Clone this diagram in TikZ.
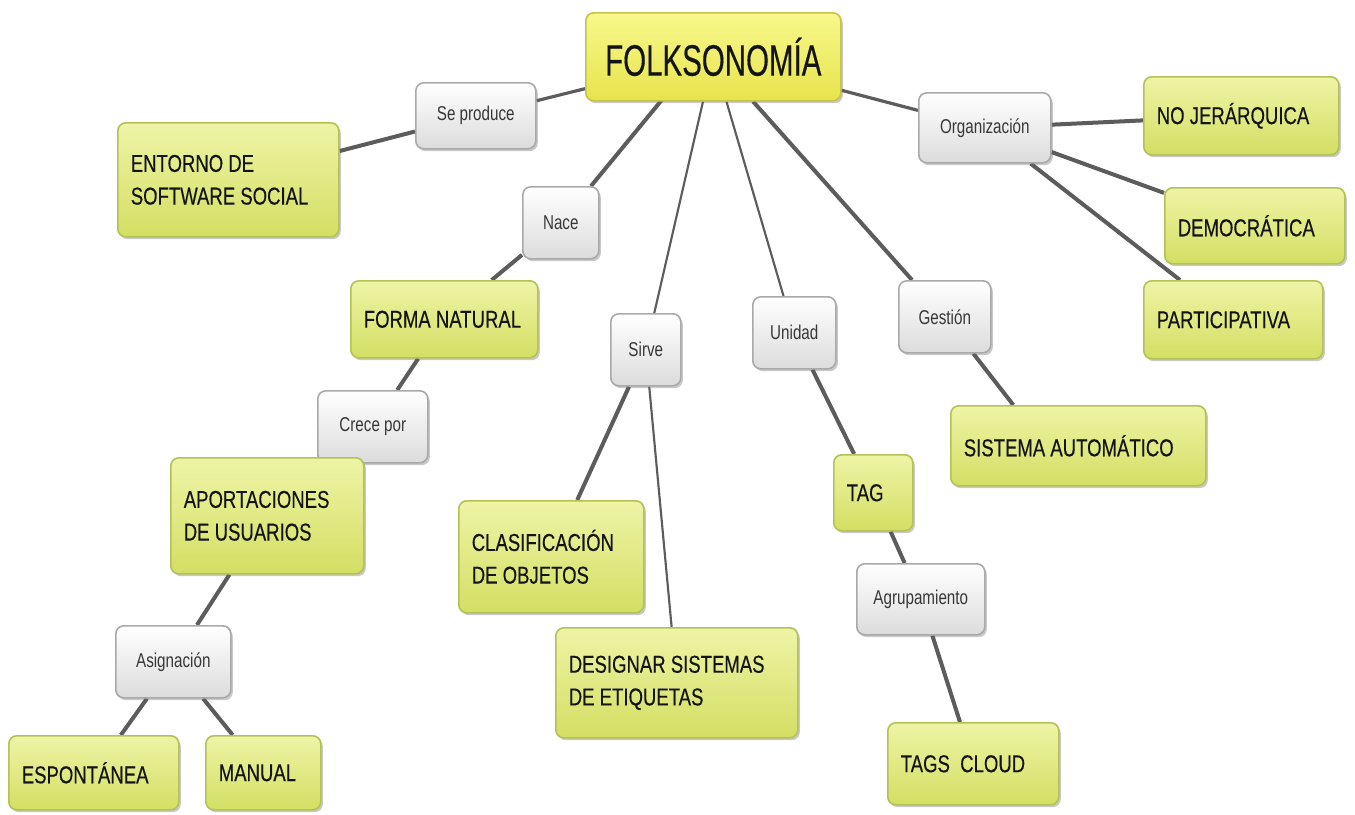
\documentclass[tikz,border=0pt]{standalone}
\usepackage{fontspec}
\setmainfont{Liberation Sans}
\newfontfamily\gfont[FakeStretch=0.76,FakeBold=0.3]{Liberation Sans}
\newfontfamily\wfont[FakeStretch=0.76]{Liberation Sans}
\newfontfamily\ffont[FakeStretch=0.67,FakeBold=0.3]{Liberation Sans}
\usetikzlibrary{shadows,calc}
\pgfdeclarelayer{background}
\pgfdeclarelayer{paper}
\pgfsetlayers{paper,background,main}
\definecolor{gtop}{HTML}{EEF4A6}
\definecolor{gbot}{HTML}{D3DF63}
\definecolor{gdraw}{HTML}{B4C156}
\definecolor{ytop}{HTML}{F8F88C}
\definecolor{ybot}{HTML}{E6E44C}
\definecolor{ydraw}{HTML}{C8C24A}
\definecolor{wbot}{HTML}{DCDCDC}
\definecolor{wdraw}{HTML}{A9A9A9}
\definecolor{linkc}{HTML}{5C5C5C}
\definecolor{txt}{HTML}{141414}
\tikzset{
 base/.style={anchor=north west, rounded corners=6pt, line width=1.2pt,
   drop shadow={shadow xshift=1.5pt, shadow yshift=-1.8pt, opacity=0.35, fill=black!60}},
 gbox/.style 2 args={base, top color=gtop, bottom color=gbot, draw=gdraw,
   /utils/exec={\pgfmathsetlengthmacro\tw{(#1-26)*0.75pt}}, text width=\tw,
   inner xsep=9.75pt, inner ysep=0pt, minimum height=#2*0.75pt, align=flush left,
   font=\gfont\fontsize{18.3}{24.5}\selectfont, text=txt},
 wbox/.style 2 args={base, top color=white, bottom color=wbot, draw=wdraw,
   minimum width=#1*0.75pt, minimum height=#2*0.75pt, inner sep=0pt, align=center,
   font=\wfont\fontsize{15}{18}\selectfont, text=txt!85},
 fbox/.style 2 args={base, top color=ytop, bottom color=ybot, draw=ydraw,
   minimum width=#1*0.75pt, minimum height=#2*0.75pt, inner sep=0pt, align=center,
   font=\ffont\fontsize{33}{38}\selectfont, text=txt},
 link/.style={draw=linkc, line width=3pt},
 midlink/.style={draw=linkc, line width=2.4pt},
 thinlink/.style={draw=linkc, line width=1.6pt},
}
\begin{document}
\begin{tikzpicture}[x=0.75pt,y=-0.75pt]
\begin{pgfonlayer}{paper}
\fill[white] (0,0) rectangle (1355,814);
\end{pgfonlayer}
\useasboundingbox (0,0) rectangle (1355,814);

\node[fbox={255}{88}] (folk) at (585,12) {FOLKSONOMÍA};

\node[wbox={120}{66}] (sepro) at (415,82) {Se produce};
\node[gbox={221}{114}] (entorno) at (117,122) {ENTORNO DE\\SOFTWARE SOCIAL};

\node[wbox={76}{72}] (nace) at (522,186) {Nace};
\node[gbox={187}{77}] (forma) at (350,280) {FORMA NATURAL};
\node[wbox={110}{72}] (crece) at (317,390) {Crece por};
\node[gbox={193}{116}] (aport) at (170,457) {APORTACIONES\\DE USUARIOS};
\node[wbox={115}{72}] (asig) at (115,625) {Asignación};
\node[gbox={170}{74}] (esp) at (8,735) {ESPONTÁNEA};
\node[gbox={115}{74}] (manual) at (205,735) {MANUAL};

\node[wbox={70}{72}] (sirve) at (610,313) {Sirve};
\node[gbox={185}{112}] (clasif) at (458,500) {CLASIFICACIÓN\\DE OBJETOS};
\node[gbox={242}{110}] (desig) at (555,627) {DESIGNAR SISTEMAS\\DE ETIQUETAS};

\node[wbox={83}{72}] (unidad) at (752,296) {Unidad};
\node[gbox={79}{76}] (tag) at (833,454) {TAG};
\node[wbox={128}{71}] (agrup) at (856,563) {Agrupamiento};
\node[gbox={171}{82}] (tagsc) at (887,722) {TAGS\ \ CLOUD};

\node[wbox={92}{72}] (gest) at (898,280) {Gestión};
\node[gbox={255}{80}] (sisaut) at (950,405) {SISTEMA AUTOMÁTICO};

\node[wbox={132}{70}] (org) at (918,92) {Organización};
\node[gbox={195}{78}] (nojer) at (1143,76) {NO JERÁRQUICA};
\node[gbox={180}{76}] (demo) at (1164,187) {DEMOCRÁTICA};
\node[gbox={179}{78}] (parti) at (1143,280) {PARTICIPATIVA};

\begin{pgfonlayer}{background}
\draw[midlink] (folk) -- (sepro);
\draw[link] (sepro) -- (entorno);
\draw[link] ($(folk.center)+(-16,0)$) -- (nace);
\draw[link] (nace) -- (forma);
\draw[link] (forma) -- (crece);
\draw[link] (crece) -- (aport);
\draw[link] (aport) -- (asig);
\draw[link] (asig) -- (esp);
\draw[link] (asig) -- (manual);
\draw[thinlink] (folk) -- (sirve);
\draw[link] (sirve) -- (clasif);
\draw[thinlink] (sirve) -- (desig);
\draw[thinlink] (folk) -- (unidad);
\draw[link] (unidad) -- (tag);
\draw[link] (tag) -- (agrup);
\draw[link] (agrup) -- (tagsc);
\draw[link] (folk) -- (gest);
\draw[link] (gest) -- ($(sisaut.north)+(-65,0)$);
\draw[midlink] (folk) -- (org);
\draw[link] (org) -- (nojer);
\draw[link] (org) -- (demo);
\draw[link] (org) -- ($(parti.north west)+(37,0)$);
\end{pgfonlayer}
\end{tikzpicture}
\end{document}
